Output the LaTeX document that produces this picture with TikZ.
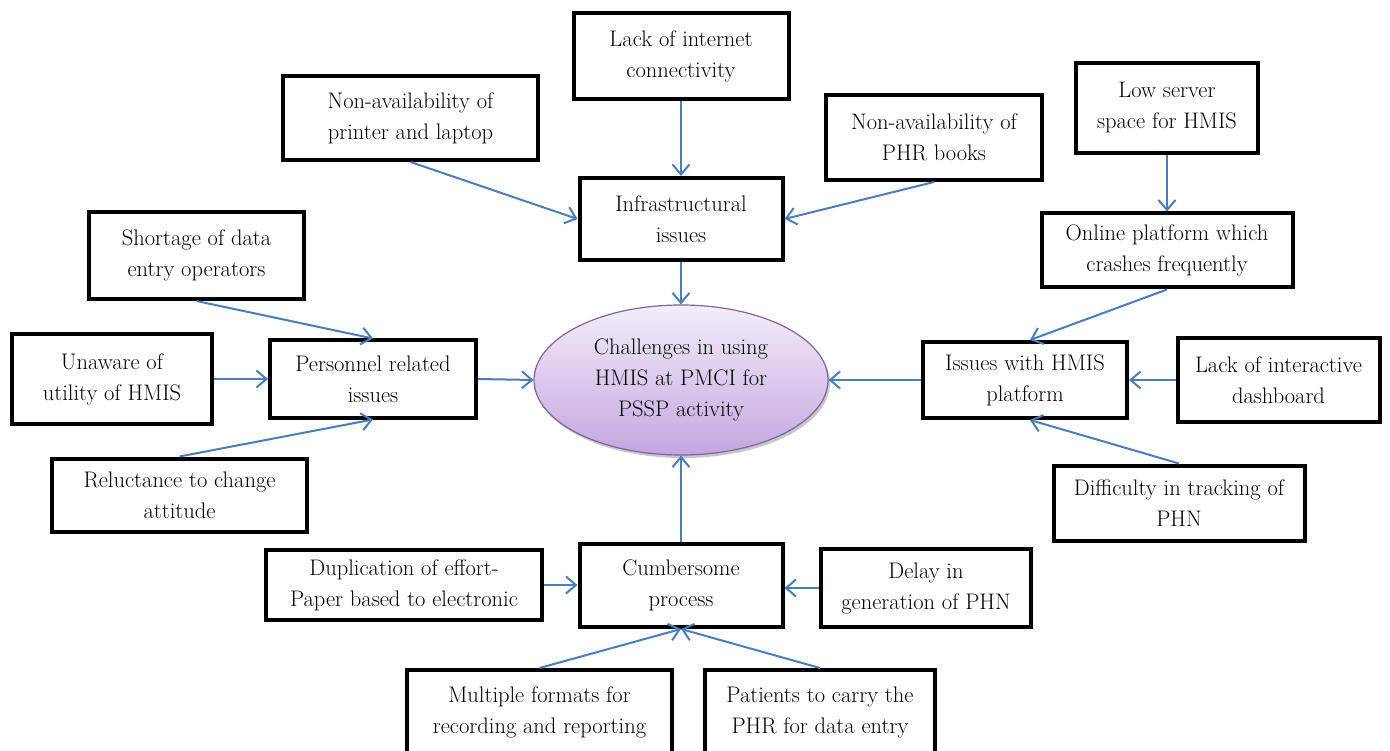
\documentclass[tikz,border=0pt]{standalone}
\usetikzlibrary{arrows.meta,shapes.geometric,shadows}
\definecolor{linkblue}{HTML}{4A7EBB}
\definecolor{ringpurple}{HTML}{8064A2}
\definecolor{lavtop}{HTML}{F3EEF9}
\definecolor{lavbottom}{HTML}{C3A6E0}
\begin{document}
\begin{tikzpicture}[x=1pt,y=-1pt,
  txt/.style={font=\fontsize{22.5}{31}\selectfont},
  cbox/.style={txt,draw=black,line width=4pt,fill=white,align=center,inner sep=0pt},
  link/.style={draw=linkblue,line width=2pt,-{Straight Barb[length=10pt,width=17pt]}}]
\useasboundingbox (0,0) rectangle (1390,751);

% central ellipse
\node (core) [ellipse,txt,align=center,minimum width=294pt,minimum height=150pt,
  draw=ringpurple,line width=1.2pt,top color=lavtop,bottom color=lavbottom,
  drop shadow={shadow xshift=2pt,shadow yshift=-3pt,fill=black!40,opacity=0.55}]
  at (681,380) {Challenges in using\\HMIS at PMCI for\\PSSP activity};

% infrastructure branch
\node (lackint) [cbox,minimum width=215pt,minimum height=86pt] at (681,56) {Lack of internet\\connectivity};
\node (printer) [cbox,minimum width=255pt,minimum height=84pt] at (410.5,118) {Non-availability of\\printer and laptop};
\node (phrbooks) [cbox,minimum width=216pt,minimum height=85pt] at (934,137.5) {Non-availability of\\PHR books};
\node (infra) [cbox,minimum width=203pt,minimum height=82pt] at (681,219) {Infrastructural\\issues};

% HMIS platform branch
\node (lowserver) [cbox,minimum width=182pt,minimum height=90pt] at (1167,108) {Low server\\space for HMIS};
\node (online) [cbox,minimum width=251pt,minimum height=74pt] at (1167,250.5) {Online platform which\\crashes frequently};
\node (issues) [cbox,minimum width=204pt,minimum height=76pt] at (1025,380) {Issues with HMIS\\platform};
\node (dashboard) [cbox,minimum width=202pt,minimum height=84pt] at (1278.5,380) {Lack of interactive\\dashboard};
\node (difficulty) [cbox,minimum width=251pt,minimum height=75pt] at (1179,503) {Difficulty in tracking of\\PHN};

% personnel branch
\node (shortage) [cbox,minimum width=215pt,minimum height=87pt] at (196.5,255.5) {Shortage of data\\entry operators};
\node (unaware) [cbox,minimum width=200pt,minimum height=89pt] at (112,379) {Unaware of\\utility of HMIS};
\node (personnel) [cbox,minimum width=206pt,minimum height=77pt] at (373,379) {Personnel related\\issues};
\node (reluct) [cbox,minimum width=255pt,minimum height=73pt] at (179.5,495) {Reluctance to change\\attitude};

% process branch
\node (cumber) [cbox,minimum width=203pt,minimum height=83pt] at (681,585.5) {Cumbersome\\process};
\node (duplic) [cbox,minimum width=276pt,minimum height=70pt] at (404,585) {Duplication of effort-\\Paper based to electronic};
\node (delay) [cbox,minimum width=210pt,minimum height=78pt] at (926,588) {Delay in\\generation of PHN};
\node (multiple) [cbox,minimum width=265pt,minimum height=84pt] at (539.5,712) {Multiple formats for\\recording and reporting};
\node (patients) [cbox,minimum width=230pt,minimum height=84pt] at (820,712) {Patients to carry the\\PHR for data entry};

% connectors
\draw[link] (lackint.south) -- (infra.north);
\draw[link] (printer.south) -- (infra.west);
\draw[link] (phrbooks.south) -- (infra.east);
\draw[link] (infra.south) -- (core.north);

\draw[link] (lowserver.south) -- (online.north);
\draw[link] (online.south) -- ([xshift=5pt]issues.north);
\draw[link] (dashboard.west) -- (issues.east);
\draw[link] (difficulty.north) -- ([xshift=5pt]issues.south);
\draw[link] (issues.west) -- (core.east);

\draw[link] (shortage.south) -- (personnel.north);
\draw[link] (unaware.east) -- (unaware.east -| personnel.west);
\draw[link] (reluct.north) -- (personnel.south);
\draw[link] (personnel.east) -- (core.west);

\draw[link] (duplic.east) -- (duplic.east -| cumber.west);
\draw[link] (delay.west) -- (delay.west -| cumber.east);
\draw[link] (multiple.north) -- (cumber.south);
\draw[link] (patients.north) -- (cumber.south);
\draw[link] (cumber.north) -- (core.south);
\end{tikzpicture}
\end{document}
